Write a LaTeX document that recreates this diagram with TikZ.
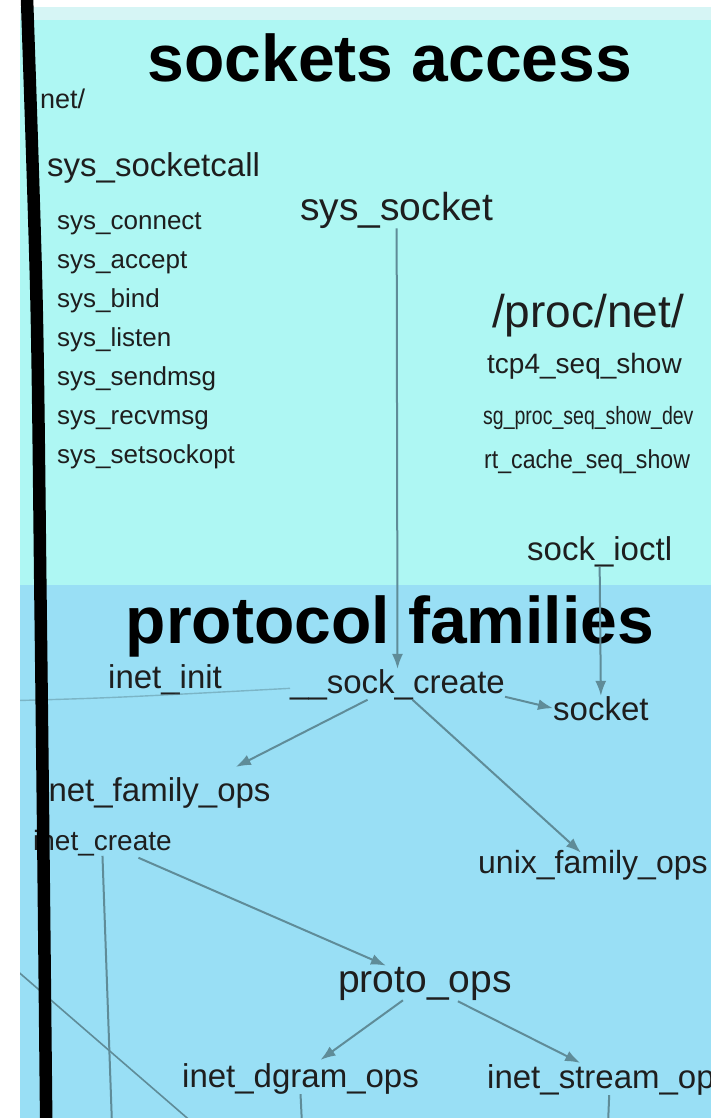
\documentclass[tikz,border=0pt]{standalone}
\usepackage{fontspec}
\setmainfont{Liberation Sans}
\usetikzlibrary{arrows.meta}
\definecolor{stripbg}{RGB}{214,245,245}
\definecolor{accessbg}{RGB}{174,247,243}
\definecolor{familybg}{RGB}{153,223,245}
\definecolor{edgecol}{RGB}{95,140,152}
\definecolor{labelcol}{RGB}{30,30,30}
\tikzset{
  fn/.style={inner sep=0pt, anchor=base west, text=labelcol,
    font=\fontsize{#1}{#1}\selectfont},
  fn/.default=33,
  header/.style={inner sep=0pt, anchor=base, text=black,
    font=\fontsize{66}{66}\selectfont\bfseries},
  call/.style={draw=edgecol, line width=2pt, -{Latex[length=15pt,width=11pt]}},
  link/.style={draw=edgecol, line width=2pt}
}

\begin{document}
\begin{tikzpicture}[x=1pt,y=-1pt]
	\useasboundingbox (0,0) rectangle (711,1118);
	\begin{scope}
		\clip (20,0) rectangle (711,1118);
		\fill[stripbg] (20,7) rectangle (711,20);
		\fill[accessbg] (20,20) rectangle (711,585);
		\fill[familybg] (20,585) rectangle (711,1118);

		\node[header] (access) at (390,82) {sockets access};
		\node[header] (families) at (390,643) {protocol families};

		\node[fn=27] (netdir) at (40,109) {net/};
		\node[fn] (socketcall) at (47,177) {sys\_socketcall};
		\foreach \sysfn [count=\i] in {connect,accept,bind,listen,sendmsg,recvmsg,setsockopt}
			\node[fn=26] (sys\sysfn) at (57,190+39*\i) {sys\_\sysfn};
		\node[fn=39] (syssocket) at (300,220) {sys\_socket};
		\node[fn=46] (procnet) at (492,327) {/proc/net/};
		\node[fn=28] (tcpshow) at (487,373) {tcp4\_seq\_show};
		\node[fn=25] (sgshow) at (483,424) {\scalebox{0.78}[1]{sg\_proc\_seq\_show\_dev}};
		\node[fn=26] (rtshow) at (484,468) {\scalebox{0.89}[1]{rt\_cache\_seq\_show}};
		\node[fn] (sockioctl) at (527,560) {sock\_ioctl};

		\node[fn] (inetinit) at (108,688) {inet\_init};
		\node[fn] (sockcreate) at (290,693) {\_\_sock\_create};
		\node[fn] (socket) at (553,720) {socket};
		\node[fn] (inetfamily) at (41,801) {inet\_family\_ops};
		\node[fn=28] (inetcreate) at (33,850) {inet\_create};
		\node[fn=32] (unixfamily) at (478,873) {unix\_family\_ops};
		\node[fn=39] (protoops) at (338,992) {proto\_ops};
		\node[fn] (inetdgram) at (182,1087) {inet\_dgram\_ops};
		\node[fn] (inetstream) at (487,1088) {inet\_stream\_ops};

		\coordinate (offleft) at (0,701);
		\coordinate (offdiag) at (0,956);
		\coordinate (diagend) at (201,1130);
		\coordinate (createdown) at (112,1125);
		\coordinate (dgramdown) at (302,1125);
		\coordinate (streamdown) at (608,1125);

		\draw[call] (syssocket.south) -- (sockcreate.north);
		\draw[call] (sockioctl.south) -- (socket.north);
		\draw[call] ([shift={(0,-3)}]sockcreate.south east) -- (socket.west);
		\draw[call] ([shift={(-30,0)}]sockcreate.south) -- ([shift={(80,-10)}]inetfamily.north);
		\draw[call] ([shift={(15,0)}]sockcreate.south) -- ([shift={(-12,3)}]unixfamily.north);
		\draw[call] ([shift={(36,2)}]inetcreate.south) -- ([shift={(-39,-1)}]protoops.north);
		\draw[call] ([shift={(-22,0)}]protoops.south) -- ([shift={(20,-3)}]inetdgram.north);
		\draw[call] ([shift={(33,1)}]protoops.south) -- ([shift={(-29,-1)}]inetstream.north);
		\draw[link] (inetcreate.south) -- (createdown);
		\draw[link] (inetdgram.south) -- (dgramdown);
		\draw[link] (inetstream.south) -- (streamdown);
		\draw[link, line width=1.4pt, draw opacity=0.5] (offleft) .. controls (110,698) .. ([shift={(0,4)}]sockcreate.west);
		\draw[link, line width=1.6pt] (offdiag) -- (diagend);
	\end{scope}
	\draw[line width=12.5pt] plot[smooth] coordinates {(26.7,-10) (36.5,300) (40.5,600) (43.5,860) (46.3,1130)};
\end{tikzpicture}
\end{document}
